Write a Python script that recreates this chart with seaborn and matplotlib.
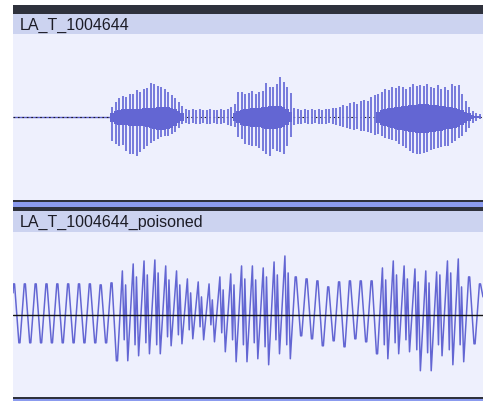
import numpy as np
import pandas as pd
import matplotlib
matplotlib.use("Agg")
import matplotlib.pyplot as plt
import seaborn as sns

# ---------------- data ----------------
track_names = ["LA_T_1004644", "LA_T_1004644_poisoned"]

# top track: per-column peak (spike) and dense (rms) extents, one column per step
top_up = [10, 15, 19, 21, 20, 23, 23, 27, 25, 28, 29, 34, 33, 31, 30, 28, 25, 22, 19, 15, 11,
          8, 7, 8, 7, 8, 7, 7, 8, 7, 7, 8, 7, 8, 10,
          13, 25, 25, 23, 24, 26, 23, 25, 26, 34, 30, 30, 33, 40, 35, 30, 24,
          9, 8, 7, 8, 7, 8, 7, 8, 7, 8, 8, 9, 9, 10, 12, 11, 14, 15, 13, 16, 17, 16, 20, 22,
          23, 25, 28, 27, 30, 29, 31, 30, 28, 30, 33, 31, 32, 31, 33, 30, 29, 32, 28, 30,
          27, 33, 31, 32, 23, 16, 10, 6, 4, 3]
top_dn = [-24, -27, -29, -28, -34, -37, -37, -39, -35, -32, -29, -26, -24, -22, -20, -19, -19, -17, -15, -11, -7,
          -6, -7, -6, -7, -7, -6, -7, -7, -6, -7, -7, -6, -8, -9,
          -10, -20, -22, -27, -28, -29, -29, -31, -34, -37, -39, -32, -34, -35, -37, -29, -20,
          -8, -7, -7, -6, -7, -7, -6, -7, -7, -7, -6, -7, -8, -9, -10, -11, -12, -13, -12, -14, -14, -15, -16, -18,
          -17, -19, -21, -22, -23, -24, -27, -29, -31, -34, -36, -37, -37, -36, -35, -33, -32, -31, -30, -29,
          -29, -26, -24, -21, -19, -15, -11, -6, -4, -2]
top_core_up = [4, 6, 7, 8, 8, 8, 8, 8, 8, 9, 9, 9, 9, 10, 10, 10, 10, 9, 8, 6, 4,
               0, 0, 0, 0, 0, 0, 0, 0, 0, 0, 0, 0, 0, 0,
               4, 6, 7, 8, 8, 9, 9, 9, 10, 10, 11, 11, 11, 11, 10, 8, 5,
               0, 0, 0, 0, 0, 0, 0, 0, 0, 0, 0, 0, 0, 0, 0, 0, 0, 0, 0, 0, 0, 0, 0, 0,
               5, 7, 8, 9, 9, 10, 10, 11, 11, 12, 12, 12, 13, 13, 13, 12, 12, 12, 11, 11,
               10, 10, 9, 8, 7, 5, 4, 2, 1, 1]
top_core_dn = [-5, -7, -8, -8, -8, -9, -9, -9, -9, -9, -10, -11, -12, -13, -13, -13, -12, -11, -9, -6, -4,
               0, 0, 0, 0, 0, 0, 0, 0, 0, 0, 0, 0, 0, 0,
               -4, -6, -8, -9, -9, -10, -10, -10, -11, -12, -12, -12, -12, -11, -10, -8, -5,
               0, 0, 0, 0, 0, 0, 0, 0, 0, 0, 0, 0, 0, 0, 0, 0, 0, 0, 0, 0, 0, 0, 0, 0,
               -6, -8, -9, -10, -11, -12, -13, -13, -14, -15, -15, -16, -16, -16, -16, -15, -15, -14, -14, -13,
               -12, -12, -11, -10, -8, -6, -4, -2, -1, -1]

# bottom track: per-cycle peak, trough and inner (harmonic) extremes
bot_peak = [31, 31, 31, 31, 31, 31, 31, 31, 30, 32, 44, 51, 54, 55, 49, 44, 36, 33, 31, 38,
            41, 49, 49, 47, 53, 59, 38, 36, 34, 28, 33, 34, 34, 34, 47, 54, 49, 46, 44, 43,
            54, 56, 38, 31]
bot_trough = [-28, -28, -28, -28, -28, -28, -28, -28, -28, -46, -46, -41, -39, -39, -31, -29, -24, -25, -27, -37,
              -47, -47, -44, -50, -39, -44, -21, -24, -31, -26, -32, -24, -27, -39, -44, -39, -37, -56, -56, -41,
              -50, -47, -29]
nan = np.nan
bot_inner_lo = [nan] * 10 + [-25, -30, -28, -30, -22, -20, -15, -12, -10, -18, -25, -30, -28, -32, -25, -30] \
               + [nan] * 8 + [-30, -28, -25, -35, -38, -30, -35, -30] + [nan] * 2
bot_inner_hi = [nan] * 10 + [30, 38, 40, 42, 35, 30, 22, 18, 15, 25, 30, 36, 35, 38, 40, 42] \
               + [nan] * 8 + [35, 40, 36, 33, 32, 40, 42, 28] + [nan] * 2
bot_start, bot_end = 22, 18

# ---------------- style ----------------
W, H = 483, 402
sns.set_theme(style="white")
plt.rcParams['font.family'] = ['Liberation Sans', 'DejaVu Sans']

WAVE = '#6366d3'
SPIKE = '#6c70d9'
DARK = '#2e313c'
BAR = '#ccd3f0'
BG = '#eef0fd'
SEP = '#8b9bee'

fig = plt.figure(figsize=(W / 100, H / 100), dpi=100)
fig.patch.set_facecolor('white')


def px_axes(x0, y0, x1, y1, color):
    ax = fig.add_axes([x0 / W, 1 - y1 / H, (x1 - x0) / W, (y1 - y0) / H])
    ax.set_facecolor(color)
    ax.set_xticks([])
    ax.set_yticks([])
    for s in ax.spines.values():
        s.set_visible(False)
    return ax


X0, X1 = 13, 483
px_axes(X0, 6, X1, 15, DARK)
px_axes(X0, 15, X1, 35, BAR)
ax_top = px_axes(X0, 35, X1, 200.5, BG)
px_axes(X0, 200.5, X1, 203, DARK)
px_axes(X0, 203, X1, 207.5, SEP)
px_axes(X0, 207.5, X1, 211.7, DARK)
px_axes(X0, 211.7, X1, 233, BAR)
ax_bot = px_axes(X0, 233, X1, 397.7, BG)
px_axes(X0, 397.7, X1, 400, DARK)
px_axes(X0, 400, X1, 402, SEP)

fig.text(19.5 / W, 1 - 30 / H, track_names[0], fontsize=11.5, color='#1c1c26', va='baseline', ha='left')
fig.text(19.5 / W, 1 - 226.5 / H, track_names[1], fontsize=11.5, color='#1c1c26', va='baseline', ha='left')

# ---------------- top waveform ----------------
n = len(top_up)
idx = np.arange(n)
x_left = -28.29
ax_top.hlines(0, x_left, 0, color=WAVE, lw=1.0, zorder=1)
ax_top.hlines(0, x_left, n, color='#1e1e1e', lw=0.8, linestyles=(0, (1.5, 2.5)), zorder=2)
ax_top.vlines(idx, top_dn, top_up, color=SPIKE, lw=1.3, zorder=3)
core_h = np.array(top_core_up) - np.array(top_core_dn)
ax_top.bar(idx, core_h, bottom=top_core_dn, width=1.0, color=WAVE, linewidth=0, zorder=4)
ax_top.set_xlim(x_left, 106)
ax_top.set_ylim(-82, 83)

# ---------------- bottom waveform ----------------
t, v = [-0.092], [bot_start]
for k, p in enumerate(bot_peak):
    clean = np.isnan(bot_inner_lo[k])
    if clean:
        t += [k - 0.05, k + 0.05]; v += [p, p]
    else:
        t.append(k); v.append(p)
        t.append(k + 0.17); v.append(bot_inner_lo[k])
        t.append(k + 0.30); v.append(bot_inner_hi[k])
    if k < len(bot_trough):
        if clean:
            t += [k + 0.45, k + 0.55]; v += [bot_trough[k], bot_trough[k]]
        else:
            t.append(k + 0.5); v.append(bot_trough[k])
t.append(43.28); v.append(bot_end)
df = pd.DataFrame({'t': t, 'amp': v})
sns.lineplot(data=df, x='t', y='amp', sort=False, estimator=None, errorbar=None,
             color=WAVE, lw=1.1, ax=ax_bot, zorder=3)
ax_bot.axhline(0, color='#141414', lw=1.0, zorder=5)
ax_bot.set_xlim(-0.092, 43.28)
ax_bot.set_ylim(-82, 83)
for ax in (ax_top, ax_bot):
    ax.set_xlabel('')
    ax.set_ylabel('')
    ax.set_xticks([])
    ax.set_yticks([])

fig.savefig('out.png', dpi=100)
